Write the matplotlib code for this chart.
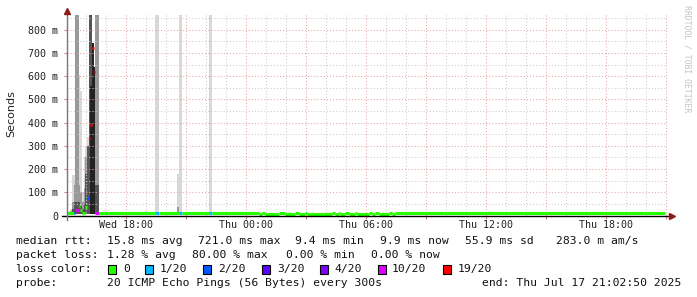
import numpy as np
import matplotlib
matplotlib.use('Agg')
import matplotlib.pyplot as plt
import matplotlib.dates as mdates
from matplotlib.ticker import FuncFormatter, MultipleLocator
from matplotlib.patches import Rectangle
from matplotlib.collections import LineCollection
from datetime import datetime, timedelta

W, H = 697, 297
MONO = 'DejaVu Sans Mono'

# time window (5 minute steps)
start = datetime(2025, 7, 16, 15, 2, 50)
end = datetime(2025, 7, 17, 21, 2, 50)
step_min = 5
n_steps = 359
TOP = 2.0          # smoke that runs off the top of the graph

# median rtt (seconds) outside the spike
base_median = 0.011
low_median = 0.008
low_spans = [(576, 585), (597, 636), (657, 687), (696, 717), (720, 795), (807, 816),
             (822, 837), (846, 867), (870, 906), (915, 927), (936, 966), (975, 987)]

# first 20 steps: the spike
early_median = [0.011, 0.011, 0.011, 0.011, 0.011, 0.022, 0.025, 0.040, 0.025, 0.011,
                0.011, 0.037, 0.075, 0.335, 0.390, 0.720, 0.620, 0.011, 0.011, 0.011]
early_loss = [0, 0, 0, 0, 2, 10, 10, 0, 0, 0, 0, 0, 2, 19, 19, 19, 19, 10, 10, 0]
smoke_light = [0.015, 0.020, 0.030, 0.175, 0.175, TOP, TOP, 0.605, 0.535, 0.100,
               0.250, 0.300, 0.340, TOP, TOP, 0.745, 0.640, TOP, TOP, 0.015]
smoke_mid = [0.012, 0.013, 0.020, 0.060, 0.130, TOP, TOP, 0.130, 0.100, 0.060,
             0.120, 0.250, 0.300, TOP, TOP, 0.745, 0.640, TOP, TOP, 0.012]
smoke_dark = [0.011, 0.011, 0.011, 0.030, 0.060, 0.060, 0.060, 0.060, 0.040, 0.030,
              0.050, 0.180, 0.300, TOP, TOP, 0.745, 0.640, 0.130, 0.130, 0.011]
smoke_black = [0, 0, 0, 0, 0, 0, 0, 0, 0, 0,
               0, 0, 0, 0, 0.560, 0.745, 0.640, 0, 0, 0]

# single lost pings later on
loss1_steps = [53, 54, 67, 68, 85, 86]
puff_steps = [47, 66, 88, 253]
puff_light = [0.020, 0.180, 0.020, 0.018]
puff_mid = [0.012, 0.035, 0.012, 0.012]

loss_levels = [0, 1, 2, 3, 4, 10, 19]
loss_colors = ['#26ff00', '#00b8ff', '#0059ff', '#5e00ff', '#7e00ff', '#dd00ff', '#ff0000']
loss_labels = ['0', '1/20', '2/20', '3/20', '4/20', '10/20', '19/20']

# ---- build step arrays
med = np.full(n_steps, base_median)
for a, b in low_spans:
    med[a // step_min:b // step_min] = low_median
loss = np.zeros(n_steps, dtype=int)
light = np.zeros(n_steps)
mid = np.zeros(n_steps)
dark = np.zeros(n_steps)
black = np.zeros(n_steps)
ne = len(early_median)
med[:ne] = early_median
loss[:ne] = early_loss
light[:ne] = smoke_light
mid[:ne] = smoke_mid
dark[:ne] = smoke_dark
black[:ne] = smoke_black
for k in loss1_steps:
    loss[k] = 1
    light[k] = TOP
for k, l, m in zip(puff_steps, puff_light, puff_mid):
    light[k] = max(light[k], l)
    mid[k] = m

edges = mdates.date2num([start + timedelta(minutes=step_min * k) for k in range(n_steps + 1)])
width = edges[1] - edges[0]
lo = 0.008

fig = plt.figure(figsize=(W / 100, H / 100), dpi=100)
ax = fig.add_axes([67 / W, (H - 215.5) / H, 600 / W, 201 / H])

# smoke
for hi, col in [(light, '#d8d8d8'), (mid, '#999999'), (dark, '#555555'), (black, '#222222')]:
    h = np.where(hi > lo, hi - lo, 0)
    ax.bar(edges[:-1], h, bottom=lo, width=width, align='edge', color=col, linewidth=0, zorder=1)

# median coloured by loss: one flat piece per run of equal steps (no risers)
segs, cols = [], []
k0 = 0
for k in range(1, n_steps + 1):
    if k == n_steps or med[k] != med[k0] or loss[k] != loss[k0]:
        segs.append([(edges[k0], med[k0]), (edges[k], med[k0])])
        cols.append(loss_colors[loss_levels.index(loss[k0])])
        k0 = k
ax.add_collection(LineCollection(segs, colors=cols, linewidths=2.2, capstyle='butt', zorder=4))

ax.set_xlim(mdates.date2num(start), mdates.date2num(end))
ax.set_ylim(0, 0.866)

# grid
ax.xaxis.set_major_locator(mdates.HourLocator(byhour=range(0, 24, 3)))
ax.xaxis.set_minor_locator(mdates.HourLocator())
def xfmt(x, pos):
    d = mdates.num2date(x)
    return d.strftime('%a %H:%M') if d.hour % 6 == 0 else ''
ax.xaxis.set_major_formatter(FuncFormatter(xfmt))
ax.yaxis.set_major_locator(MultipleLocator(0.1))
ax.yaxis.set_minor_locator(MultipleLocator(0.05))
ax.yaxis.set_major_formatter(FuncFormatter(lambda v, p: '0' if v == 0 else '%d m' % round(v * 1000)))
ax.grid(which='major', color='#e2a8a8', linestyle=(0, (1, 2)), lw=0.75, zorder=3)
ax.grid(which='minor', color='#cccccc', linestyle=(0, (1, 2)), lw=0.75, zorder=3)
ax.set_axisbelow(False)

for s in ['top', 'right', 'left', 'bottom']:
    ax.spines[s].set_visible(False)
ax.axhline(0, xmin=-0.008, xmax=1.003, color='black', lw=1.0, clip_on=False, zorder=5)
ax.axvline(mdates.date2num(start), ymin=-0.02, ymax=1.01, color='#777777', lw=1.0, clip_on=False, zorder=5)
ax.plot([1.008], [0], marker='>', ms=4, color='#8b1a1a', transform=ax.transAxes, clip_on=False, zorder=6)
ax.plot([0], [1.017], marker='^', ms=4, color='#8b1a1a', transform=ax.transAxes, clip_on=False, zorder=6)

ax.tick_params(which='both', direction='out', labelsize=7.2)
ax.tick_params(which='major', length=2, color='#d08080', pad=1.5)
ax.tick_params(which='minor', length=0)
ax.tick_params(axis='y', which='major', pad=4.5)
for t in ax.get_xticklabels() + ax.get_yticklabels():
    t.set_family(MONO)
    t.set_color('#222222')

fig.text(11 / W, 1 - 114 / H, 'Seconds', rotation=90, fontsize=8, ha='center', va='center',
         family='DejaVu Sans', color='#222222')
fig.text(687 / W, 1 - 59 / H, 'RRDTOOL / TOBI OETIKER', rotation=270, fontsize=5.9,
         ha='center', va='center', family=MONO, color='#c4c4c4')

# legend
def lt(x, y, s, ha='left'):
    fig.text(x / W, 1 - y / H, s, fontsize=8.2, family=MONO, ha=ha, va='center', color='#111111')

rtt_x = [16, 107, 198, 295, 380, 465, 556]
rtt_txt = ['median rtt:', '15.8 ms avg', '721.0 ms max', '9.4 ms min', '9.9 ms now',
           '55.9 ms sd', '283.0 m am/s']
for x, s in zip(rtt_x, rtt_txt):
    lt(x, 241, s)
pl_x = [16, 107, 192, 286, 371]
pl_txt = ['packet loss:', '1.28 % avg', '80.00 % max', '0.00 % min', '0.00 % now']
for x, s in zip(pl_x, pl_txt):
    lt(x, 255, s)
lt(16, 269, 'loss color:')
box_x = [108, 145, 203, 262, 320, 378, 443]
lab_x = [123, 160, 218, 277, 334, 392, 458]
for bx, tx, col, lab in zip(box_x, lab_x, loss_colors, loss_labels):
    fig.patches.append(Rectangle((bx / W, 1 - 273.5 / H), 8 / W, 9 / H, transform=fig.transFigure,
                                 facecolor=col, edgecolor='black', lw=0.8))
    lt(tx, 269, lab)
lt(16, 283, 'probe:')
lt(107, 283, '20 ICMP Echo Pings (56 Bytes) every 300s')
lt(681, 283, 'end: Thu Jul 17 21:02:50 2025', ha='right')

fig.savefig('out.png', dpi=100)
